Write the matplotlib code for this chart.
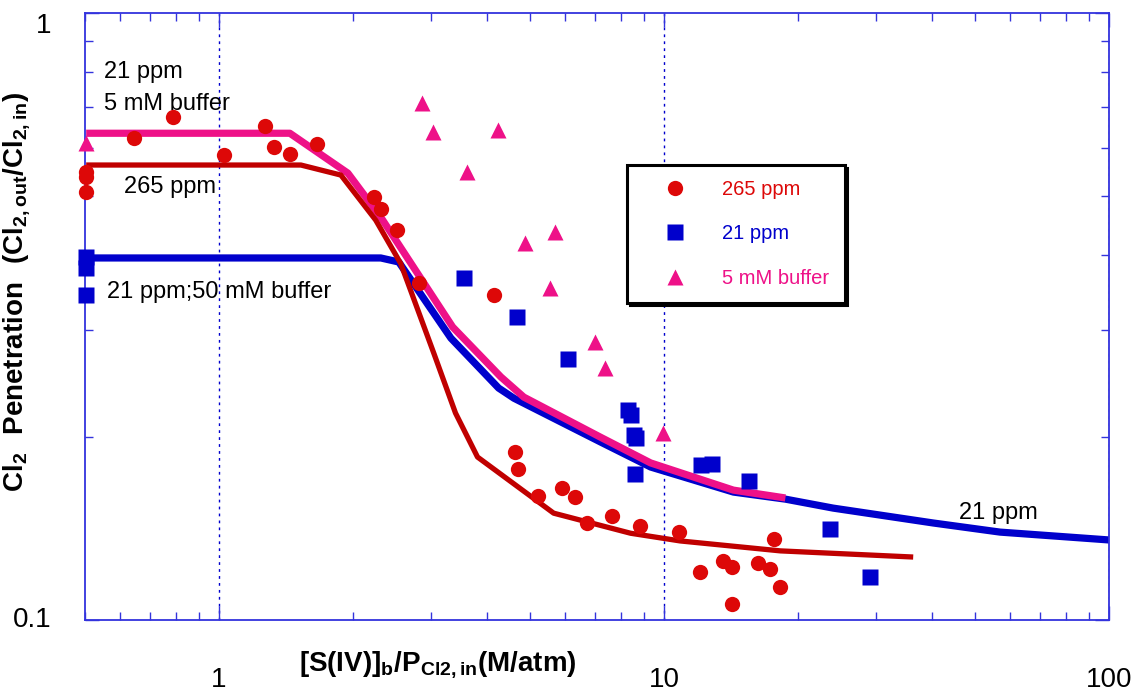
import matplotlib
matplotlib.use('Agg')
import matplotlib.pyplot as plt

plt.rcParams['font.family'] = ['Liberation Sans', 'DejaVu Sans']
plt.rcParams['mathtext.fontset'] = 'custom'
plt.rcParams['mathtext.rm'] = 'Liberation Sans'
plt.rcParams['mathtext.bf'] = 'Liberation Sans:bold'

RED = '#dd0808'
DARKRED = '#c00000'
BLUE = '#0000cc'
PINK = '#ee1188'
AXBLUE = '#3333dd'

# 265 ppm data (circles)
x265 = [0.503, 0.503, 0.503, 0.644, 0.789, 1.026, 1.268, 1.329, 1.443, 1.66,
        2.228, 2.31, 2.51, 2.81, 4.16, 4.62, 4.69, 5.2, 5.89, 6.3, 6.73, 7.66,
        8.85, 10.78, 12.02, 13.6, 14.25, 14.25, 16.3, 17.34, 17.7, 18.26]
y265 = [0.547, 0.537, 0.507, 0.622, 0.674, 0.584, 0.651, 0.601, 0.586, 0.608,
        0.497, 0.475, 0.439, 0.359, 0.343, 0.189, 0.1774, 0.160, 0.165, 0.1595, 0.1445, 0.1484,
        0.1428, 0.1396, 0.120, 0.125, 0.1223, 0.1063, 0.124, 0.1213, 0.136, 0.1133]

# 21 ppm data (squares)
x21 = [0.503, 0.503, 0.503, 3.55, 4.67, 6.07, 8.32, 8.45, 8.54, 8.63, 8.59,
       12.14, 12.85, 15.56, 23.6, 29.1]
y21 = [0.396, 0.38, 0.343, 0.366, 0.3156, 0.269, 0.222, 0.2177, 0.2017, 0.1993, 0.174,
       0.180, 0.181, 0.1694, 0.1412, 0.1177]

# 5 mM buffer data (triangles)
xbuf = [0.503, 2.856, 3.02, 4.23, 3.60, 5.68, 4.86, 5.53, 6.98, 7.35, 9.97]
ybuf = [0.611, 0.711, 0.637, 0.642, 0.547, 0.436, 0.418, 0.352, 0.287, 0.260, 0.203]

# model curves
xm265 = [0.503, 1.528, 1.879, 2.25, 2.56, 3.04, 3.40, 3.81, 5.65, 8.41, 10.87, 18.26, 36.3]
ym265 = [0.562, 0.562, 0.541, 0.456, 0.387, 0.275, 0.2193, 0.1856, 0.150, 0.139, 0.135, 0.130, 0.127]

xm21 = [0.503, 2.31, 2.535, 3.32, 4.25, 4.60, 7.20, 9.33, 14.32, 18.74, 24.0, 40.3, 56.9, 100]
ym21 = [0.395, 0.395, 0.389, 0.2914, 0.2411, 0.232, 0.1965, 0.1787, 0.1625, 0.1582, 0.1529,
        0.1445, 0.1396, 0.1355]

xmbuf = [0.503, 1.443, 1.948, 2.31, 3.35, 4.30, 4.84, 7.20, 9.33, 14.32, 18.74]
ymbuf = [0.634, 0.634, 0.545, 0.461, 0.304, 0.2515, 0.233, 0.2001, 0.1815, 0.1637, 0.1589]

fig = plt.figure(figsize=(11.41, 6.92), dpi=100)
ax = fig.add_axes([0.0745, 0.104, 0.8975, 0.877])

ax.plot(xm21, ym21, color=BLUE, lw=5.2, solid_capstyle='butt', zorder=2)
ax.plot(xmbuf, ymbuf, color=PINK, lw=5.2, solid_capstyle='butt', zorder=3)
ax.plot(xm265, ym265, color=DARKRED, lw=3.8, solid_capstyle='butt', zorder=4)

ax.plot(x265, y265, 'o', color=RED, ms=11, mec='none', label='265 ppm', zorder=5, clip_on=False)
ax.plot(x21, y21, 's', color=BLUE, ms=12, mec='none', label='21 ppm', zorder=5, clip_on=False)
ax.plot(xbuf, ybuf, '^', color=PINK, ms=12, mec='none', label='5 mM buffer', zorder=5, clip_on=False)

ax.set_xscale('log')
ax.set_yscale('log')
ax.set_xlim(0.5, 100)
ax.set_ylim(0.1, 1)

for sp in ax.spines.values():
    sp.set_color(AXBLUE)
    sp.set_linewidth(1.3)

ax.grid(axis='x', which='major', color=BLUE, linestyle=(0, (2, 3)), lw=1)
ax.tick_params(which='both', direction='in', top=True, right=True, color=AXBLUE)
ax.tick_params(which='major', length=10, width=1)
ax.tick_params(which='minor', length=6, width=1)
ax.tick_params(axis='x', which='major', pad=34, labelsize=20)
ax.tick_params(axis='y', which='major', pad=24, labelsize=20)
ax.set_xticks([1, 10, 100])
ax.set_xticklabels(['1', '10', '100'])
ax.set_yticks([0.1, 1])
ax.set_yticklabels(['0.1', '1'])
ax.yaxis.set_minor_formatter(matplotlib.ticker.NullFormatter())
ax.xaxis.set_minor_formatter(matplotlib.ticker.NullFormatter())
for lbl in ax.get_yticklabels():
    lbl.set_va('top' if lbl.get_text() == '1' else 'center')

ax.set_xlabel(r'$\mathbf{[S(IV)]_b/P_{Cl2,in}(M/atm)}$', fontsize=20)
ax.xaxis.set_label_coords(0.345, -0.048)
ax.set_ylabel(r'$\mathbf{Cl_2\ \ Penetration\ \ (Cl_{2,out}/Cl_{2,in})}$', fontsize=20)
ax.yaxis.set_label_coords(-0.052, 0.54)

tkw = dict(fontsize=17, va='center', ha='left', color='black')
ax.text(0.552, 0.799, '21 ppm', **tkw)
ax.text(0.552, 0.708, '5 mM buffer', **tkw)
ax.text(0.612, 0.517, '265 ppm', **tkw)
ax.text(0.561, 0.347, '21 ppm;50 mM buffer', **tkw)
ax.text(46.0, 0.150, '21 ppm', **tkw)

leg = ax.legend(loc='upper left', bbox_to_anchor=(0.529, 0.7496), fontsize=14.5,
                labelspacing=1.25, handlelength=3.3, handletextpad=0.7,
                borderpad=0.75, borderaxespad=0, fancybox=False,
                shadow={'color': 'black', 'alpha': 1.0},
                edgecolor='black', framealpha=1, labelcolor='markerfacecolor')
leg.get_frame().set_linewidth(2.2)

plt.savefig('out.png', dpi=100)
